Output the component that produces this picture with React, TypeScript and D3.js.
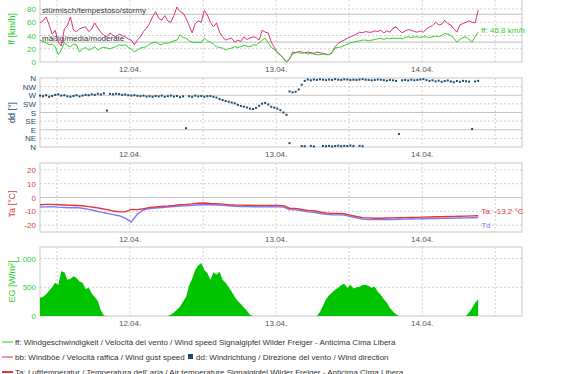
import React from 'react'
import * as d3 from 'd3'

// time axis: hours relative to 12.04. 00:00
const HOUR = 3600 * 1000
const DAY0 = Date.UTC(2000, 3, 12)
const AXIS_START_H = -14.8
const AXIS_END_H = 64.4
const DATA_START_H = -14.8

// 30 min samples
const ffValues = [
  33, 31, 29, 26, 27, 23, 11, 18, 29, 25, 23, 27, 26, 15, 20, 22, 18, 20, 23, 18,
  21, 22, 21, 20, 22, 23, 26, 25, 26, 22, 20, 15, 18, 21, 22, 23, 27, 29, 30, 27,
  26, 29, 28, 30, 32, 33, 41, 37, 36, 32, 30, 29, 30, 29, 36, 32, 30, 27, 23, 22,
  21, 18, 20, 21, 23, 22, 23, 25, 24, 23, 26, 25, 29, 33, 36, 29, 22, 19, 15, 11,
  5, 0, 5, 12, 14, 14, 13, 14, 12, 13, 12, 11, 11, 12, 11, 11, 15, 21, 22, 23,
  25, 27, 29, 30, 31, 32, 33, 33, 32, 33, 34, 35, 36, 34, 36, 35, 36, 35, 36, 35,
  37, 38, 37, 38, 38, 37, 38, 38, 37, 38, 39, 38, 40, 43, 42, 40, 36, 30, 34, 37,
  38, 34, 30, 38, 45,
]
const bbValues = [
  59, 62, 68, 56, 42, 48, 30, 24, 50, 55, 68, 48, 46, 50, 52, 53, 46, 50, 59, 51,
  45, 40, 38, 44, 40, 38, 42, 40, 38, 35, 33, 26, 33, 38, 46, 51, 58, 68, 76, 66,
  63, 70, 62, 60, 70, 83, 76, 74, 66, 55, 44, 58, 62, 60, 78, 71, 60, 53, 59, 45,
  38, 33, 35, 36, 30, 33, 31, 38, 34, 36, 38, 37, 33, 48, 45, 44, 30, 22, 14, 10,
  6, 0, 4, 15, 14, 16, 15, 14, 15, 14, 13, 15, 14, 13, 12, 11, 14, 23, 28, 31,
  33, 36, 38, 40, 42, 45, 44, 46, 45, 45, 47, 46, 48, 44, 47, 45, 51, 53, 48, 44,
  47, 49, 48, 46, 45, 47, 45, 50, 53, 55, 60, 56, 57, 63, 58, 56, 50, 45, 56, 58,
  60, 62, 60, 59, 78,
]
const ddValues = [
  268, 265, 270, 262, 266, 272, 275, 268, 270, 264, 262, 266, 270, 264, 268, 272, 270, 275, 272, 278,
  274, 280, 190, 277, 275, 278, 276, 272, 274, 270, 268, 270, 267, 265, 268, 263, 265, 262, 266, 264,
  268, 262, 265, 268, 263, 266, 260, 264, 98, 265, 262, 268, 264, 266, 262, 265, 266, 262, 258, 250,
  245, 240, 236, 232, 228, 220, 214, 210, 206, 200, 198, 204, 215, 226, 230, 222, 210, 205, 200, 192,
  180, 168, 290, 285, 288, 300, 325, 345, 352, 348, 352, 350, 353, 351, 349, 352, 350, 354, 351, 350,
  353, 352, 349, 351, 350, 352, 354, 351, 350, 348, 350, 352, 351, 349, 346, 350, 348, 345, 68, 348,
  350, 347, 351, 348, 350, 352, 354, 349, 345, 348, 342, 346, 340, 344, 347, 342, 338, 344, 340, 345,
  343, 341, 94, 342, 345,
]
// additional readings near north (0°) — [sample index, degrees]
const ddExtra = [
  [82, 20], [86, 5], [87, 4], [89, 6], [90, 3], [93, 5], [94, 4], [95, 6], [96, 3], [97, 5],
  [98, 7], [99, 4], [100, 6], [101, 5], [102, 8], [103, 5], [105, 6], [106, 4],
]
const egValues = [
  316, 330, 380, 440, 500, 580, 540, 780, 760, 630, 650, 690, 660, 600, 580, 470, 490, 390, 330, 260,
  100, 10, 0, 0, 0, 0, 0, 0, 0, 0, 0, 0, 0, 0, 0, 0, 0, 0, 0, 0,
  0, 0, 0, 20, 60, 110, 160, 250, 330, 530, 650, 800, 880, 920, 800, 750, 630, 760, 720, 770,
  630, 580, 500, 420, 330, 260, 210, 150, 90, 20, 0, 0, 0, 0, 0, 0, 0, 0, 0, 0,
  0, 0, 0, 0, 0, 0, 0, 0, 0, 0, 0, 0, 70, 180, 290, 360, 410, 456, 490, 540,
  560, 490, 545, 480, 500, 510, 540, 545, 520, 490, 510, 420, 370, 290, 230, 140, 80, 30, 0, 0,
  0, 0, 0, 0, 0, 0, 0, 0, 0, 0, 0, 0, 0, 0, 0, 0, 0, 0, 0, 0,
  0, 60, 140, 230, 290,
]
// hourly samples
const taValues = [
  -5.2, -5.0, -5.0, -5.2, -5.4, -5.6, -5.8, -6.0, -6.6, -7.2, -8.0, -8.8, -9.8, -10.3, -10.4, -8.6, -8.8, -8.2, -7.2, -6.9,
  -6.5, -6.2, -5.8, -5.2, -5.0, -4.6, -4.2, -4.0, -4.3, -4.5, -4.8, -5.2, -5.4, -5.5, -5.6, -5.7, -5.7, -5.8, -5.7, -5.8,
  -6.0, -7.8, -8.0, -8.6, -9.4, -9.6, -10.5, -11.2, -11.5, -11.6, -11.8, -12.8, -13.8, -14.6, -14.8, -15.0, -15.0, -14.9, -14.8, -14.7,
  -14.6, -14.5, -14.4, -14.2, -14.1, -14.0, -13.9, -13.8, -13.7, -13.6, -13.5, -13.3, -13.2,
]
const tdValues = [
  -7.0, -6.8, -6.6, -7.0, -7.2, -7.4, -7.2, -7.8, -8.6, -9.6, -10.6, -11.4, -12.4, -13.2, -15.0, -17.8, -12.0, -9.0, -8.0, -7.6,
  -7.3, -7.0, -6.6, -6.2, -6.0, -5.7, -5.4, -5.2, -5.3, -5.4, -5.7, -6.0, -6.3, -6.5, -6.6, -6.7, -6.7, -6.8, -6.7, -6.8,
  -7.0, -8.8, -9.0, -9.6, -10.4, -10.8, -11.6, -12.2, -12.5, -12.6, -12.8, -13.8, -14.8, -15.6, -15.9, -16.0, -16.0, -15.9, -15.9, -15.8,
  -15.7, -15.6, -15.5, -15.4, -15.3, -15.2, -15.1, -15.0, -15.0, -14.9, -14.8, -14.7, -14.6,
]

const windTicks = [0, 20, 40, 60, 80]
const windBands = [
  { value: 72, label: 'stürmisch/tempestoso/stormy' },
  { value: 30, label: 'mäßig/media/moderate' },
]
const dirTicks = [
  [0, 'N'], [45, 'NE'], [90, 'E'], [135, 'SE'], [180, 'S'], [225, 'SW'], [270, 'W'], [315, 'NW'], [360, 'N'],
]
const tempTicks = [-20, -10, 0, 10, 20]
const radTicks = [0, 500, 1000]

const GREEN = '#2fcf2f'
const PINK = '#d9327a'
const NAVY = '#1d4a6b'
const RED = '#e0383a'
const BLUE = '#7a7aff'
const FILL = '#00c400'
const GRID = '#cfcfcf'
const FONT = '"Liberation Sans", Arial, sans-serif'

const L = 40
const R = 522

const at = (i, stepH) => new Date(DAY0 + (DATA_START_H + i * stepH) * HOUR)
const half = v => v.map((d, i) => ({ t: at(i, 0.5), v: d }))
const hourly = v => v.map((d, i) => ({ t: at(i, 1), v: d }))

const x = d3.scaleUtc()
  .domain([new Date(DAY0 + AXIS_START_H * HOUR), new Date(DAY0 + AXIS_END_H * HOUR)])
  .range([L, R])

const gridTimes = d3.utcHour.every(12).range(x.domain()[0], x.domain()[1])
const dayTimes = d3.utcDay.range(x.domain()[0], x.domain()[1])
const dayFmt = d3.utcFormat('%d.%m.')

function Txt({ x, y, size = 8, fill = '#444', anchor = 'start', rotate = 0, children }) {
  return (
    <text
      transform={`translate(${x},${y})${rotate ? ` rotate(${rotate})` : ''}`}
      fontSize={size}
      fill={fill}
      textAnchor={anchor}
    >
      {children}
    </text>
  )
}

function Frame({ top, bottom, y, ticks, labelColor, title, titleY }) {
  return (
    <g>
      {gridTimes.map((t, i) => (
        <line key={'v' + i} x1={x(t)} x2={x(t)} y1={top} y2={bottom}
          stroke={GRID} strokeDasharray="2,2" />
      ))}
      {ticks.map(([v, lab, solid], i) => (
        <g key={'h' + i}>
          {y(v) > top + 1 && y(v) < bottom - 1 && (
            <line x1={L} x2={R} y1={y(v)} y2={y(v)}
              stroke={solid ? '#c4c4c4' : GRID} strokeDasharray={solid ? null : '2,2'} />
          )}
          <Txt x={L - 4} y={y(v) + 3} anchor="end" fill={labelColor}>{lab}</Txt>
        </g>
      ))}
      <rect x={L} y={top} width={R - L} height={bottom - top} fill="none" stroke="#c8c8c8" />
      {dayTimes.map((t, i) => (
        <Txt key={'d' + i} x={x(t)} y={bottom + 10} anchor="middle" fill="#555">{dayFmt(t)}</Txt>
      ))}
      <Txt x={15} y={titleY ?? (top + bottom) / 2} rotate={-90} anchor="middle" size={9} fill={labelColor}>{title}</Txt>
    </g>
  )
}

export default function App() {
  // wind panel
  const yW = d3.scaleLinear().domain([0, 100]).range([62, -4.25])
  const ff = half(ffValues)
  const bb = half(bbValues)
  const lineW = d3.line().x(d => x(d.t)).y(d => yW(d.v))

  // direction panel
  const yD = d3.scaleLinear().domain([0, 360]).range([147, 78])
  const dd = half(ddValues)
  const ddX = ddExtra.map(([i, v]) => ({ t: at(i, 0.5), v }))

  // temperature panel
  const yT = d3.scaleLinear().domain([-25, 25]).range([232, 163])
  const ta = hourly(taValues)
  const td = hourly(tdValues)
  const lineT = d3.line().x(d => x(d.t)).y(d => yT(d.v))

  // radiation panel
  const yE = d3.scaleLinear().domain([0, 1200]).range([316, 247])
  const eg = half(egValues)
  const areaE = d3.area().x(d => x(d.t)).y0(yE(0)).y1(d => yE(d.v))

  const fmtRad = v => (v >= 1000 ? d3.format(',')(v).replace(',', ' ') : String(v))

  const lastFf = ff[ff.length - 1]
  const lastTa = ta[ta.length - 1]
  const lastTd = td[td.length - 1]

  return (
    <div style={{ position: 'absolute', left: 0, top: 0 }}>
      <svg width={562} height={374} style={{ display: 'block', fontFamily: FONT, background: '#fff' }}>
        {/* wind speed */}
        <Frame top={-4.25} bottom={62} y={yW}
          ticks={windTicks.map(v => [v, String(v)])}
          labelColor={GREEN} title="ff [km/h]" />
        {windBands.map((b, i) => (
          <g key={i}>
            <line x1={L} x2={R} y1={yW(b.value)} y2={yW(b.value)} stroke="#bdbdbd" />
            <Txt x={L + 2} y={yW(b.value) - 1.5} fill="#333" size={8}>{b.label}</Txt>
          </g>
        ))}
        <path d={lineW(bb)} fill="none" stroke={PINK} strokeWidth={1} />
        <path d={lineW(ff)} fill="none" stroke={GREEN} strokeWidth={1} />
        <Txt x={x(lastFf.t) + 3} y={yW(lastFf.v) + 1} fill={GREEN} size={8}>
          {`ff: ${d3.format('.1f')(46.8).replace('.', ',')} km/h`}
        </Txt>

        {/* wind direction */}
        <Frame top={78} bottom={147} y={yD}
          ticks={dirTicks.map(([v, lab]) => [v, lab, v % 90 === 0])}
          labelColor={NAVY} title="dd [°]" />
        {dd.concat(ddX).map((d, i) => (
          <rect key={i} x={x(d.t) - 1} y={yD(d.v) - 1} width={2} height={2} fill={NAVY} />
        ))}

        {/* temperature */}
        <Frame top={163} bottom={232} y={yT}
          ticks={tempTicks.map(v => [v, String(v), v === 0])}
          labelColor={RED} title="Ta [°C]" titleY={204} />
        <path d={lineT(td)} fill="none" stroke={BLUE} strokeWidth={1.4} />
        <path d={lineT(ta)} fill="none" stroke={RED} strokeWidth={1.4} />
        <Txt x={x(lastTa.t) + 3} y={yT(lastTa.v) - 2} fill={RED} size={8}>
          {`Ta: ${String(lastTa.v).replace('.', ',')} °C`}
        </Txt>
        <Txt x={x(lastTd.t) + 3} y={yT(lastTd.v) + 10} fill={BLUE} size={8}>Td</Txt>

        {/* global radiation */}
        <Frame top={247} bottom={316} y={yE}
          ticks={radTicks.map(v => [v, fmtRad(v)])}
          labelColor={GREEN} title="EG [W/m²]" />
        <path d={areaE(eg)} fill={FILL} />

        {/* legend */}
        <g fontSize={8} fill="#333">
          <line x1={2} x2={13} y1={342} y2={342} stroke={GREEN} />
          <text x={15} y={345}>ff: Windgeschwindigkeit / Velocità del vento / Wind speed  Signalgipfel Wilder Freiger - Anticima Cima Libera</text>
          <line x1={2} x2={13} y1={357} y2={357} stroke={PINK} />
          <text x={15} y={360}>bb: Windböe / Velocità raffica / Wind gust speed</text>
          <rect x={188} y={354} width={5} height={5} fill={NAVY} />
          <text x={196} y={360}>dd: Windrichtung / Direzione del vento / Wind direction</text>
          <line x1={2} x2={13} y1={372} y2={372} stroke={RED} strokeWidth={2} />
          <text x={15} y={375}>Ta: Lufttemperatur / Temperatura dell' aria / Air temperature  Signalgipfel Wilder Freiger - Anticima Cima Libera</text>
        </g>
      </svg>
    </div>
  )
}
